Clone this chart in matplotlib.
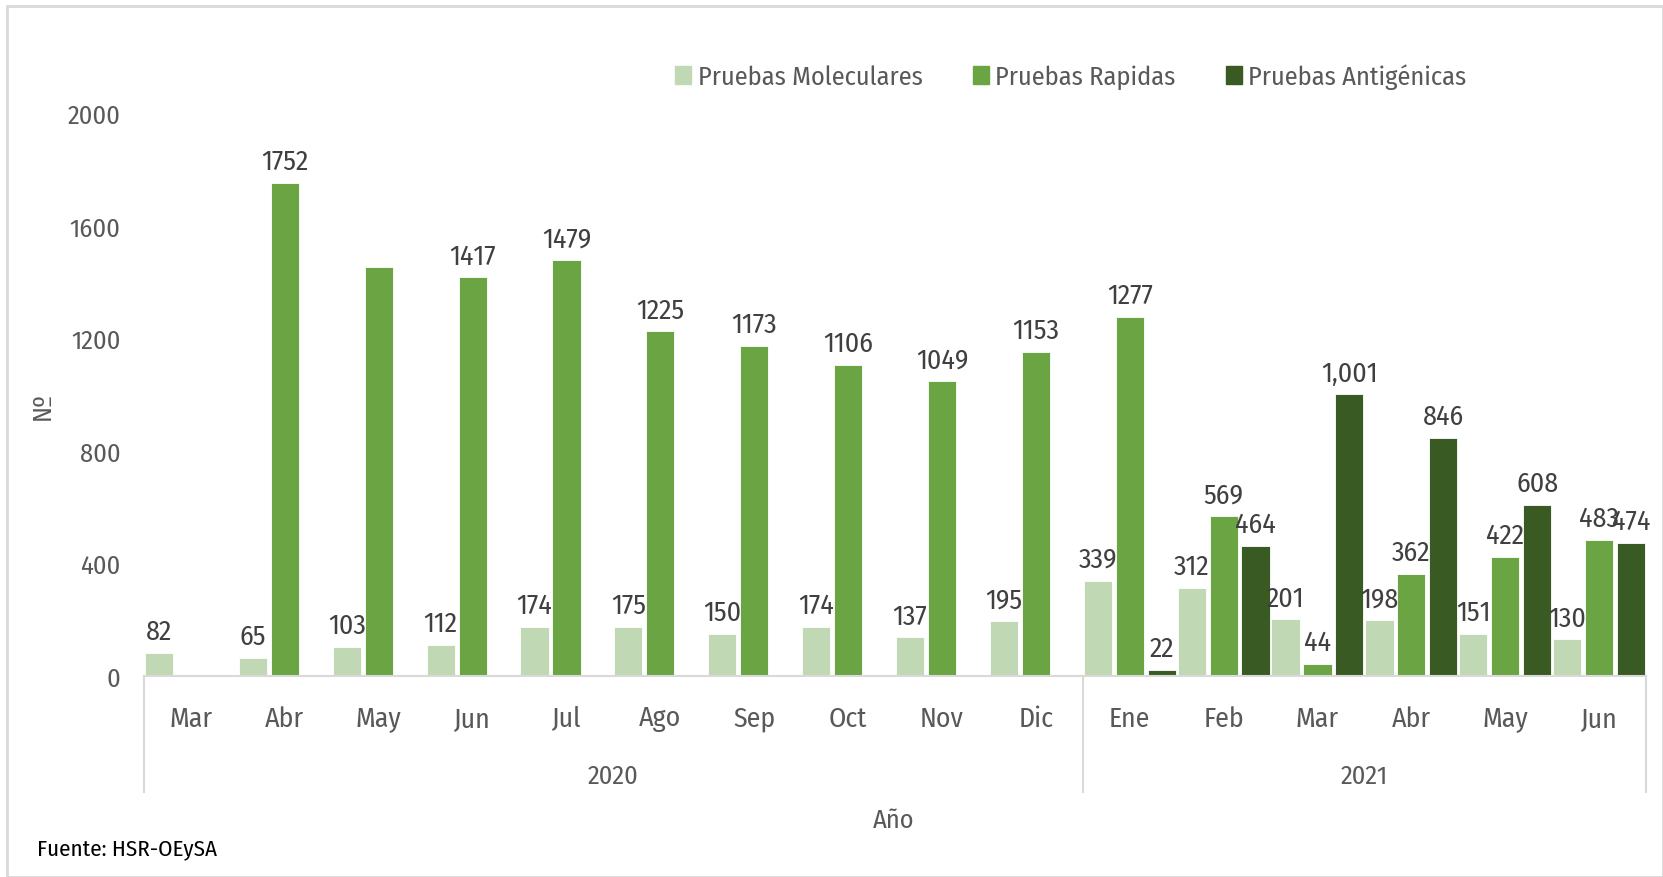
import matplotlib
matplotlib.use("Agg")
import matplotlib.pyplot as plt
from matplotlib.transforms import blended_transform_factory
from matplotlib.patches import Rectangle
from matplotlib.lines import Line2D

plt.rcParams["font.family"] = ["Fira Sans Condensed", "DejaVu Sans"]

months = ["Mar", "Abr", "May", "Jun", "Jul", "Ago", "Sep", "Oct", "Nov", "Dic",
          "Ene", "Feb", "Mar", "Abr", "May", "Jun"]
years = ["2020", "2021"]
year_counts = [10, 6]

moleculares = [82, 65, 103, 112, 174, 175, 150, 174, 137, 195, 339, 312, 201, 198, 151, 130]
rapidas = [0, 1752, 1453, 1417, 1479, 1225, 1173, 1106, 1049, 1153, 1277, 569, 44, 362, 422, 483]
antigenicas = [0, 0, 0, 0, 0, 0, 0, 0, 0, 0, 22, 464, 1001, 846, 608, 474]

# data label texts as shown in the source ("" = no label)
lab_mol = [str(v) for v in moleculares]
lab_rap = ["", "1752", "", "1417", "1479", "1225", "1173", "1106", "1049", "1153",
           "1277", "569", "44", "362", "422", "483"]
lab_ant = ["", "", "", "", "", "", "", "", "", "", "22", "464", "1,001", "846", "608", "474"]

series = [
    ("Pruebas Moleculares", moleculares, lab_mol, "#c0d8b4"),
    ("Pruebas Rapidas", rapidas, lab_rap, "#6aa443"),
    ("Pruebas Antigénicas", antigenicas, lab_ant, "#3a5a24"),
]

txt = "#595959"
lab_col = "#404040"
fs = 19

fig = plt.figure(figsize=(16.63, 8.78), dpi=100)
ax = fig.add_axes([0.0866, 0.2289, 0.9898 - 0.0866, 0.8696 - 0.2289])

x = list(range(len(months)))
offsets = [-0.34, 0.0, 0.34]
width = 0.30
handles = []
for (name, vals, labs, col), off in zip(series, offsets):
    pos = [i + off for i in x]
    ax.bar(pos, vals, width, color=col, label=name, edgecolor="white", linewidth=0.6)
    handles.append(Rectangle((0, 0), 1, 1, color=col))
    for p, v, t in zip(pos, vals, labs):
        if t:
            ax.annotate(t, (p, v), xytext=(0, 6), textcoords="offset points",
                        ha="center", va="bottom", fontsize=20, color=lab_col)

ax.set_ylim(0, 2000)
ax.set_xlim(-0.5, len(months) - 0.5)
ax.set_yticks([0, 400, 800, 1200, 1600, 2000])
ax.tick_params(axis="y", length=0, pad=17, labelsize=fs, labelcolor=txt)
ax.set_xticks([])
for s in ["top", "right", "left"]:
    ax.spines[s].set_visible(False)
ax.spines["bottom"].set_color("#d9d9d9")
ax.spines["bottom"].set_linewidth(1.5)

# two-level category axis
tr = blended_transform_factory(ax.transData, fig.transFigure)
for i, m in enumerate(months):
    ax.text(i, 1 - 719 / 878, m, transform=tr, ha="center", va="center",
            fontsize=20, color=txt)
start = -0.5
seps = [start]
for yr, n in zip(years, year_counts):
    ax.text(start + n / 2, 1 - 777 / 878, yr, transform=tr, ha="center", va="center",
            fontsize=fs, color=txt)
    start += n
    seps.append(start)
for s in seps:
    ax.add_line(Line2D([s, s], [0.2289, 1 - 793 / 878], transform=tr,
                       color="#d9d9d9", linewidth=1.5, clip_on=False))

fig.text(894 / 1663, 1 - 821 / 878, "Año", ha="center", va="center", fontsize=fs, color=txt)
fig.text(42 / 1663, 1 - 406 / 878, "Nº", ha="center", va="center", rotation=90,
         fontsize=fs, color=txt)
fig.text(37 / 1663, 1 - 849 / 878, "Fuente: HSR-OEySA", ha="left", va="center",
         fontsize=16.5, color="black")

fig.legend(handles, [s[0] for s in series], loc="center", bbox_to_anchor=(0.644, 0.912),
           ncol=3, frameon=False, fontsize=fs, handlelength=0.6, handleheight=0.7,
           handletextpad=0.25, columnspacing=1.9, labelcolor=txt)

fig.add_artist(Rectangle((7 / 1663, 0), 1 - 7 / 1663, 1 - 7 / 878, transform=fig.transFigure,
                         fill=False, edgecolor="#d9d9d9", linewidth=2))

fig.savefig("out.png", dpi=100)
